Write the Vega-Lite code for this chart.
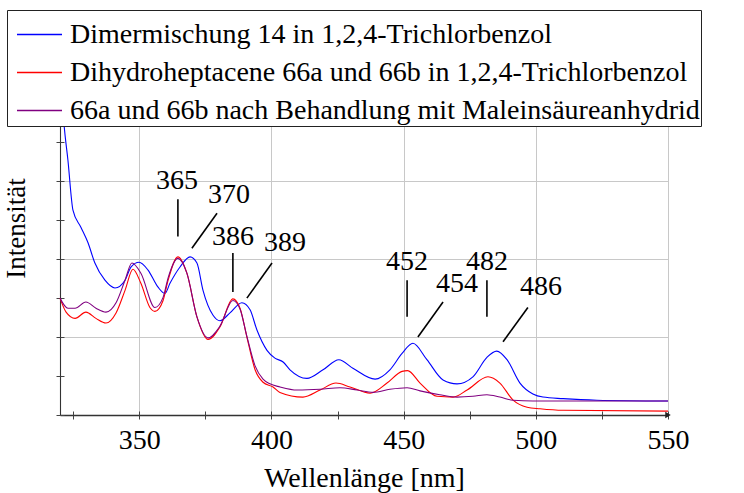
{
  "$schema": "https://vega.github.io/schema/vega-lite/v6.json",
  "width": 608,
  "height": 374,
  "autosize": "none",
  "padding": {"left": 60, "top": 41, "right": 76, "bottom": 78},
  "background": "white",
  "config": {
    "view": {"stroke": null},
    "font": "Liberation Serif",
    "axis": {
      "labelFont": "Liberation Serif",
      "titleFont": "Liberation Serif",
      "labelFontSize": 28,
      "titleFontSize": 28,
      "titleFontWeight": "normal",
      "labelColor": "black",
      "titleColor": "black",
      "domainColor": "#333",
      "tickColor": "#444",
      "gridColor": "#c8c8c8",
      "gridWidth": 1
    },
    "legend": {"labelFont": "Liberation Serif", "labelFontSize": 28}
  },
  "datasets": {
    "spectra": [
      {"s": "Dimermischung 14 in 1,2,4-Trichlorbenzol", "wl": 320.0, "i": 4.5},
      {"s": "Dimermischung 14 in 1,2,4-Trichlorbenzol", "wl": 321.5, "i": 3.74},
      {"s": "Dimermischung 14 in 1,2,4-Trichlorbenzol", "wl": 323.0, "i": 3.27},
      {"s": "Dimermischung 14 in 1,2,4-Trichlorbenzol", "wl": 324.9, "i": 2.63},
      {"s": "Dimermischung 14 in 1,2,4-Trichlorbenzol", "wl": 327.9, "i": 2.41},
      {"s": "Dimermischung 14 in 1,2,4-Trichlorbenzol", "wl": 330.6, "i": 2.21},
      {"s": "Dimermischung 14 in 1,2,4-Trichlorbenzol", "wl": 333.2, "i": 1.95},
      {"s": "Dimermischung 14 in 1,2,4-Trichlorbenzol", "wl": 337.0, "i": 1.73},
      {"s": "Dimermischung 14 in 1,2,4-Trichlorbenzol", "wl": 340.8, "i": 1.63},
      {"s": "Dimermischung 14 in 1,2,4-Trichlorbenzol", "wl": 344.6, "i": 1.73},
      {"s": "Dimermischung 14 in 1,2,4-Trichlorbenzol", "wl": 346.9, "i": 1.9},
      {"s": "Dimermischung 14 in 1,2,4-Trichlorbenzol", "wl": 349.9, "i": 1.96},
      {"s": "Dimermischung 14 in 1,2,4-Trichlorbenzol", "wl": 353.3, "i": 1.86},
      {"s": "Dimermischung 14 in 1,2,4-Trichlorbenzol", "wl": 357.1, "i": 1.64},
      {"s": "Dimermischung 14 in 1,2,4-Trichlorbenzol", "wl": 359.7, "i": 1.56},
      {"s": "Dimermischung 14 in 1,2,4-Trichlorbenzol", "wl": 361.6, "i": 1.69},
      {"s": "Dimermischung 14 in 1,2,4-Trichlorbenzol", "wl": 365.4, "i": 1.9},
      {"s": "Dimermischung 14 in 1,2,4-Trichlorbenzol", "wl": 369.2, "i": 2.03},
      {"s": "Dimermischung 14 in 1,2,4-Trichlorbenzol", "wl": 371.8, "i": 1.95},
      {"s": "Dimermischung 14 in 1,2,4-Trichlorbenzol", "wl": 374.1, "i": 1.6},
      {"s": "Dimermischung 14 in 1,2,4-Trichlorbenzol", "wl": 377.9, "i": 1.28},
      {"s": "Dimermischung 14 in 1,2,4-Trichlorbenzol", "wl": 380.5, "i": 1.21},
      {"s": "Dimermischung 14 in 1,2,4-Trichlorbenzol", "wl": 384.3, "i": 1.31},
      {"s": "Dimermischung 14 in 1,2,4-Trichlorbenzol", "wl": 388.8, "i": 1.44},
      {"s": "Dimermischung 14 in 1,2,4-Trichlorbenzol", "wl": 391.9, "i": 1.35},
      {"s": "Dimermischung 14 in 1,2,4-Trichlorbenzol", "wl": 394.5, "i": 1.09},
      {"s": "Dimermischung 14 in 1,2,4-Trichlorbenzol", "wl": 398.3, "i": 0.83},
      {"s": "Dimermischung 14 in 1,2,4-Trichlorbenzol", "wl": 401.3, "i": 0.73},
      {"s": "Dimermischung 14 in 1,2,4-Trichlorbenzol", "wl": 404.4, "i": 0.68},
      {"s": "Dimermischung 14 in 1,2,4-Trichlorbenzol", "wl": 407.0, "i": 0.58},
      {"s": "Dimermischung 14 in 1,2,4-Trichlorbenzol", "wl": 413.4, "i": 0.47},
      {"s": "Dimermischung 14 in 1,2,4-Trichlorbenzol", "wl": 419.5, "i": 0.58},
      {"s": "Dimermischung 14 in 1,2,4-Trichlorbenzol", "wl": 425.5, "i": 0.71},
      {"s": "Dimermischung 14 in 1,2,4-Trichlorbenzol", "wl": 430.8, "i": 0.6},
      {"s": "Dimermischung 14 in 1,2,4-Trichlorbenzol", "wl": 439.2, "i": 0.46},
      {"s": "Dimermischung 14 in 1,2,4-Trichlorbenzol", "wl": 444.8, "i": 0.58},
      {"s": "Dimermischung 14 in 1,2,4-Trichlorbenzol", "wl": 449.4, "i": 0.79},
      {"s": "Dimermischung 14 in 1,2,4-Trichlorbenzol", "wl": 453.5, "i": 0.92},
      {"s": "Dimermischung 14 in 1,2,4-Trichlorbenzol", "wl": 458.8, "i": 0.71},
      {"s": "Dimermischung 14 in 1,2,4-Trichlorbenzol", "wl": 464.9, "i": 0.45},
      {"s": "Dimermischung 14 in 1,2,4-Trichlorbenzol", "wl": 470.2, "i": 0.4},
      {"s": "Dimermischung 14 in 1,2,4-Trichlorbenzol", "wl": 476.2, "i": 0.49},
      {"s": "Dimermischung 14 in 1,2,4-Trichlorbenzol", "wl": 481.5, "i": 0.74},
      {"s": "Dimermischung 14 in 1,2,4-Trichlorbenzol", "wl": 485.2, "i": 0.82},
      {"s": "Dimermischung 14 in 1,2,4-Trichlorbenzol", "wl": 489.1, "i": 0.71},
      {"s": "Dimermischung 14 in 1,2,4-Trichlorbenzol", "wl": 494.0, "i": 0.41},
      {"s": "Dimermischung 14 in 1,2,4-Trichlorbenzol", "wl": 498.9, "i": 0.27},
      {"s": "Dimermischung 14 in 1,2,4-Trichlorbenzol", "wl": 502.7, "i": 0.23},
      {"s": "Dimermischung 14 in 1,2,4-Trichlorbenzol", "wl": 510.3, "i": 0.21},
      {"s": "Dimermischung 14 in 1,2,4-Trichlorbenzol", "wl": 523.1, "i": 0.19},
      {"s": "Dimermischung 14 in 1,2,4-Trichlorbenzol", "wl": 550.0, "i": 0.18},
      {"s": "Dihydroheptacene 66a und 66b in 1,2,4-Trichlorbenzol", "wl": 320.0, "i": 1.5},
      {"s": "Dihydroheptacene 66a und 66b in 1,2,4-Trichlorbenzol", "wl": 322.3, "i": 1.32},
      {"s": "Dihydroheptacene 66a und 66b in 1,2,4-Trichlorbenzol", "wl": 325.7, "i": 1.24},
      {"s": "Dihydroheptacene 66a und 66b in 1,2,4-Trichlorbenzol", "wl": 329.8, "i": 1.32},
      {"s": "Dihydroheptacene 66a und 66b in 1,2,4-Trichlorbenzol", "wl": 333.6, "i": 1.24},
      {"s": "Dihydroheptacene 66a und 66b in 1,2,4-Trichlorbenzol", "wl": 337.4, "i": 1.18},
      {"s": "Dihydroheptacene 66a und 66b in 1,2,4-Trichlorbenzol", "wl": 341.2, "i": 1.31},
      {"s": "Dihydroheptacene 66a und 66b in 1,2,4-Trichlorbenzol", "wl": 344.6, "i": 1.6},
      {"s": "Dihydroheptacene 66a und 66b in 1,2,4-Trichlorbenzol", "wl": 347.6, "i": 1.87},
      {"s": "Dihydroheptacene 66a und 66b in 1,2,4-Trichlorbenzol", "wl": 350.6, "i": 1.69},
      {"s": "Dihydroheptacene 66a und 66b in 1,2,4-Trichlorbenzol", "wl": 354.0, "i": 1.38},
      {"s": "Dihydroheptacene 66a und 66b in 1,2,4-Trichlorbenzol", "wl": 355.9, "i": 1.33},
      {"s": "Dihydroheptacene 66a und 66b in 1,2,4-Trichlorbenzol", "wl": 359.0, "i": 1.47},
      {"s": "Dihydroheptacene 66a und 66b in 1,2,4-Trichlorbenzol", "wl": 360.9, "i": 1.73},
      {"s": "Dihydroheptacene 66a und 66b in 1,2,4-Trichlorbenzol", "wl": 364.6, "i": 2.03},
      {"s": "Dihydroheptacene 66a und 66b in 1,2,4-Trichlorbenzol", "wl": 368.0, "i": 1.82},
      {"s": "Dihydroheptacene 66a und 66b in 1,2,4-Trichlorbenzol", "wl": 371.8, "i": 1.26},
      {"s": "Dihydroheptacene 66a und 66b in 1,2,4-Trichlorbenzol", "wl": 376.0, "i": 0.97},
      {"s": "Dihydroheptacene 66a und 66b in 1,2,4-Trichlorbenzol", "wl": 380.5, "i": 1.13},
      {"s": "Dihydroheptacene 66a und 66b in 1,2,4-Trichlorbenzol", "wl": 385.4, "i": 1.49},
      {"s": "Dihydroheptacene 66a und 66b in 1,2,4-Trichlorbenzol", "wl": 388.1, "i": 1.37},
      {"s": "Dihydroheptacene 66a und 66b in 1,2,4-Trichlorbenzol", "wl": 390.7, "i": 1.0},
      {"s": "Dihydroheptacene 66a und 66b in 1,2,4-Trichlorbenzol", "wl": 393.8, "i": 0.58},
      {"s": "Dihydroheptacene 66a und 66b in 1,2,4-Trichlorbenzol", "wl": 396.8, "i": 0.42},
      {"s": "Dihydroheptacene 66a und 66b in 1,2,4-Trichlorbenzol", "wl": 400.6, "i": 0.36},
      {"s": "Dihydroheptacene 66a und 66b in 1,2,4-Trichlorbenzol", "wl": 403.2, "i": 0.29},
      {"s": "Dihydroheptacene 66a und 66b in 1,2,4-Trichlorbenzol", "wl": 411.9, "i": 0.23},
      {"s": "Dihydroheptacene 66a und 66b in 1,2,4-Trichlorbenzol", "wl": 418.4, "i": 0.32},
      {"s": "Dihydroheptacene 66a und 66b in 1,2,4-Trichlorbenzol", "wl": 424.4, "i": 0.41},
      {"s": "Dihydroheptacene 66a und 66b in 1,2,4-Trichlorbenzol", "wl": 429.7, "i": 0.36},
      {"s": "Dihydroheptacene 66a und 66b in 1,2,4-Trichlorbenzol", "wl": 437.3, "i": 0.28},
      {"s": "Dihydroheptacene 66a und 66b in 1,2,4-Trichlorbenzol", "wl": 443.7, "i": 0.41},
      {"s": "Dihydroheptacene 66a und 66b in 1,2,4-Trichlorbenzol", "wl": 449.4, "i": 0.56},
      {"s": "Dihydroheptacene 66a und 66b in 1,2,4-Trichlorbenzol", "wl": 451.5, "i": 0.57},
      {"s": "Dihydroheptacene 66a und 66b in 1,2,4-Trichlorbenzol", "wl": 456.2, "i": 0.41},
      {"s": "Dihydroheptacene 66a und 66b in 1,2,4-Trichlorbenzol", "wl": 462.6, "i": 0.24},
      {"s": "Dihydroheptacene 66a und 66b in 1,2,4-Trichlorbenzol", "wl": 468.7, "i": 0.23},
      {"s": "Dihydroheptacene 66a und 66b in 1,2,4-Trichlorbenzol", "wl": 474.0, "i": 0.32},
      {"s": "Dihydroheptacene 66a und 66b in 1,2,4-Trichlorbenzol", "wl": 481.9, "i": 0.49},
      {"s": "Dihydroheptacene 66a und 66b in 1,2,4-Trichlorbenzol", "wl": 486.4, "i": 0.41},
      {"s": "Dihydroheptacene 66a und 66b in 1,2,4-Trichlorbenzol", "wl": 491.4, "i": 0.19},
      {"s": "Dihydroheptacene 66a und 66b in 1,2,4-Trichlorbenzol", "wl": 496.7, "i": 0.1},
      {"s": "Dihydroheptacene 66a und 66b in 1,2,4-Trichlorbenzol", "wl": 501.6, "i": 0.08},
      {"s": "Dihydroheptacene 66a und 66b in 1,2,4-Trichlorbenzol", "wl": 510.3, "i": 0.06},
      {"s": "Dihydroheptacene 66a und 66b in 1,2,4-Trichlorbenzol", "wl": 550.0, "i": 0.05},
      {"s": "66a und 66b nach Behandlung mit Maleinsäureanhydrid", "wl": 320.0, "i": 1.5},
      {"s": "66a und 66b nach Behandlung mit Maleinsäureanhydrid", "wl": 323.0, "i": 1.37},
      {"s": "66a und 66b nach Behandlung mit Maleinsäureanhydrid", "wl": 325.7, "i": 1.37},
      {"s": "66a und 66b nach Behandlung mit Maleinsäureanhydrid", "wl": 329.8, "i": 1.45},
      {"s": "66a und 66b nach Behandlung mit Maleinsäureanhydrid", "wl": 333.6, "i": 1.37},
      {"s": "66a und 66b nach Behandlung mit Maleinsäureanhydrid", "wl": 337.4, "i": 1.32},
      {"s": "66a und 66b nach Behandlung mit Maleinsäureanhydrid", "wl": 341.2, "i": 1.44},
      {"s": "66a und 66b nach Behandlung mit Maleinsäureanhydrid", "wl": 344.6, "i": 1.73},
      {"s": "66a und 66b nach Behandlung mit Maleinsäureanhydrid", "wl": 347.2, "i": 1.95},
      {"s": "66a und 66b nach Behandlung mit Maleinsäureanhydrid", "wl": 350.6, "i": 1.82},
      {"s": "66a und 66b nach Behandlung mit Maleinsäureanhydrid", "wl": 355.9, "i": 1.38},
      {"s": "66a und 66b nach Behandlung mit Maleinsäureanhydrid", "wl": 359.0, "i": 1.51},
      {"s": "66a und 66b nach Behandlung mit Maleinsäureanhydrid", "wl": 360.9, "i": 1.76},
      {"s": "66a und 66b nach Behandlung mit Maleinsäureanhydrid", "wl": 364.6, "i": 2.01},
      {"s": "66a und 66b nach Behandlung mit Maleinsäureanhydrid", "wl": 368.0, "i": 1.82},
      {"s": "66a und 66b nach Behandlung mit Maleinsäureanhydrid", "wl": 371.8, "i": 1.26},
      {"s": "66a und 66b nach Behandlung mit Maleinsäureanhydrid", "wl": 376.0, "i": 0.99},
      {"s": "66a und 66b nach Behandlung mit Maleinsäureanhydrid", "wl": 380.5, "i": 1.14},
      {"s": "66a und 66b nach Behandlung mit Maleinsäureanhydrid", "wl": 385.4, "i": 1.47},
      {"s": "66a und 66b nach Behandlung mit Maleinsäureanhydrid", "wl": 388.1, "i": 1.36},
      {"s": "66a und 66b nach Behandlung mit Maleinsäureanhydrid", "wl": 390.7, "i": 1.01},
      {"s": "66a und 66b nach Behandlung mit Maleinsäureanhydrid", "wl": 393.8, "i": 0.63},
      {"s": "66a und 66b nach Behandlung mit Maleinsäureanhydrid", "wl": 396.8, "i": 0.46},
      {"s": "66a und 66b nach Behandlung mit Maleinsäureanhydrid", "wl": 399.4, "i": 0.4},
      {"s": "66a und 66b nach Behandlung mit Maleinsäureanhydrid", "wl": 403.2, "i": 0.36},
      {"s": "66a und 66b nach Behandlung mit Maleinsäureanhydrid", "wl": 409.7, "i": 0.32},
      {"s": "66a und 66b nach Behandlung mit Maleinsäureanhydrid", "wl": 418.4, "i": 0.33},
      {"s": "66a und 66b nach Behandlung mit Maleinsäureanhydrid", "wl": 425.9, "i": 0.35},
      {"s": "66a und 66b nach Behandlung mit Maleinsäureanhydrid", "wl": 432.4, "i": 0.32},
      {"s": "66a und 66b nach Behandlung mit Maleinsäureanhydrid", "wl": 438.4, "i": 0.29},
      {"s": "66a und 66b nach Behandlung mit Maleinsäureanhydrid", "wl": 444.8, "i": 0.33},
      {"s": "66a und 66b nach Behandlung mit Maleinsäureanhydrid", "wl": 451.3, "i": 0.35},
      {"s": "66a und 66b nach Behandlung mit Maleinsäureanhydrid", "wl": 456.2, "i": 0.31},
      {"s": "66a und 66b nach Behandlung mit Maleinsäureanhydrid", "wl": 463.7, "i": 0.26},
      {"s": "66a und 66b nach Behandlung mit Maleinsäureanhydrid", "wl": 470.2, "i": 0.23},
      {"s": "66a und 66b nach Behandlung mit Maleinsäureanhydrid", "wl": 476.2, "i": 0.24},
      {"s": "66a und 66b nach Behandlung mit Maleinsäureanhydrid", "wl": 481.5, "i": 0.26},
      {"s": "66a und 66b nach Behandlung mit Maleinsäureanhydrid", "wl": 486.4, "i": 0.23},
      {"s": "66a und 66b nach Behandlung mit Maleinsäureanhydrid", "wl": 491.4, "i": 0.19},
      {"s": "66a und 66b nach Behandlung mit Maleinsäureanhydrid", "wl": 498.9, "i": 0.18},
      {"s": "66a und 66b nach Behandlung mit Maleinsäureanhydrid", "wl": 550.0, "i": 0.18}
    ],
    "leaders": [
      {"label": "365", "tx": 364.3, "ty": 3.0, "x1": 364.6, "y1": 2.77, "x2": 364.6, "y2": 2.29},
      {"label": "370", "tx": 383.9, "ty": 2.82, "x1": 379.4, "y1": 2.59, "x2": 369.9, "y2": 2.14},
      {"label": "386", "tx": 385.4, "ty": 2.29, "x1": 385.4, "y1": 2.08, "x2": 385.4, "y2": 1.58},
      {"label": "389", "tx": 405.1, "ty": 2.21, "x1": 400.2, "y1": 1.95, "x2": 390.7, "y2": 1.5},
      {"label": "452", "tx": 451.3, "ty": 1.96, "x1": 451.3, "y1": 1.73, "x2": 451.3, "y2": 1.26},
      {"label": "454", "tx": 470.2, "ty": 1.68, "x1": 464.9, "y1": 1.45, "x2": 455.4, "y2": 1.0},
      {"label": "482", "tx": 481.5, "ty": 1.96, "x1": 481.5, "y1": 1.73, "x2": 481.5, "y2": 1.26},
      {"label": "486", "tx": 502.0, "ty": 1.64, "x1": 497.0, "y1": 1.38, "x2": 487.6, "y2": 0.94}
    ],
    "arrow": [{"wl": 550, "i": 0}]
  },
  "layer": [
    {
      "data": {"name": "spectra"},
      "mark": {"type": "line", "interpolate": "monotone", "strokeWidth": 1.1},
      "encoding": {
        "x": {
          "field": "wl", "type": "quantitative",
          "scale": {"domain": [320, 550], "nice": false, "zero": false},
          "axis": {
            "orient": "bottom",
            "title": "Wellenlänge [nm]",
            "values": [325, 350, 375, 400, 425, 450, 475, 500, 525, 550],
            "labelExpr": "datum.value % 50 === 0 ? datum.label : ''",
            "tickSize": 4,
            "labelPadding": 7,
            "titlePadding": 10,
            "labelFlush": false,
            "labelOverlap": false,
            "domainWidth": 1.3,
            "grid": true,
            "gridOpacity": {"condition": {"test": "datum.value % 50 === 0", "value": 1}, "value": 0}
          }
        },
        "y": {
          "field": "i", "type": "quantitative",
          "scale": {"domain": [0, 4.8], "nice": false},
          "axis": {
            "orient": "left",
            "title": "Intensität",
            "titleFontSize": 27,
            "values": [0, 0.5, 1, 1.5, 2, 2.5, 3, 3.5, 4, 4.5],
            "labels": false,
            "tickSize": 4,
            "titlePadding": 25,
            "domainWidth": 1.1,
            "grid": true,
            "gridOpacity": {"condition": {"test": "datum.value % 1 === 0 && datum.value > 0", "value": 1}, "value": 0}
          }
        },
        "color": {
          "field": "s", "type": "nominal",
          "scale": {
            "domain": [
              "Dimermischung 14 in 1,2,4-Trichlorbenzol",
              "Dihydroheptacene 66a und 66b in 1,2,4-Trichlorbenzol",
              "66a und 66b nach Behandlung mit Maleinsäureanhydrid"
            ],
            "range": ["#0000ff", "#ff0000", "#800080"]
          },
          "legend": {
            "title": null,
            "orient": "none",
            "legendX": -53,
            "legendY": -31,
            "fillColor": "white",
            "strokeColor": "#222",
            "padding": 1,
            "symbolType": "stroke",
            "symbolSize": 2025,
            "symbolOffset": 8,
            "symbolStrokeWidth": 1.5,
            "labelFont": "Liberation Serif",
            "labelFontSize": 28,
            "labelColor": "black",
            "labelLimit": 1000,
            "labelOffset": 7,
            "rowPadding": -8.7,
            "zindex": 5
          }
        }
      }
    },
    {
      "data": {"name": "leaders"},
      "mark": {"type": "rule", "color": "black", "strokeWidth": 1.6},
      "encoding": {
        "x": {"field": "x1", "type": "quantitative", "scale": {"domain": [320, 550], "nice": false, "zero": false}, "axis": null},
        "y": {"field": "y1", "type": "quantitative", "scale": {"domain": [0, 4.8], "nice": false}, "axis": null},
        "x2": {"field": "x2"},
        "y2": {"field": "y2"}
      }
    },
    {
      "data": {"name": "leaders"},
      "mark": {"type": "text", "font": "Liberation Serif", "fontSize": 28, "color": "black", "align": "center", "baseline": "middle"},
      "encoding": {
        "x": {"field": "tx", "type": "quantitative", "scale": {"domain": [320, 550], "nice": false, "zero": false}, "axis": null},
        "y": {"field": "ty", "type": "quantitative", "scale": {"domain": [0, 4.8], "nice": false}, "axis": null},
        "text": {"field": "label"}
      }
    },
    {
      "data": {"name": "arrow"},
      "mark": {"type": "point", "shape": "triangle-right", "filled": true, "color": "#222", "size": 40, "opacity": 1},
      "encoding": {
        "x": {
          "field": "wl", "type": "quantitative",
          "scale": {"domain": [320, 550], "nice": false, "zero": false},
          "axis": {
            "orient": "bottom", "title": null, "labels": false, "domain": false, "grid": false,
            "values": [325, 350, 375, 400, 425, 450, 475, 500, 525, 550],
            "tickSize": -4
          }
        },
        "y": {
          "field": "i", "type": "quantitative",
          "scale": {"domain": [0, 4.8], "nice": false},
          "axis": {
            "orient": "left", "title": null, "labels": false, "domain": false, "grid": false,
            "values": [0, 0.5, 1, 1.5, 2, 2.5, 3, 3.5, 4, 4.5],
            "tickSize": -4
          }
        }
      }
    }
  ],
  "resolve": {"axis": {"x": "independent", "y": "independent"}}
}
